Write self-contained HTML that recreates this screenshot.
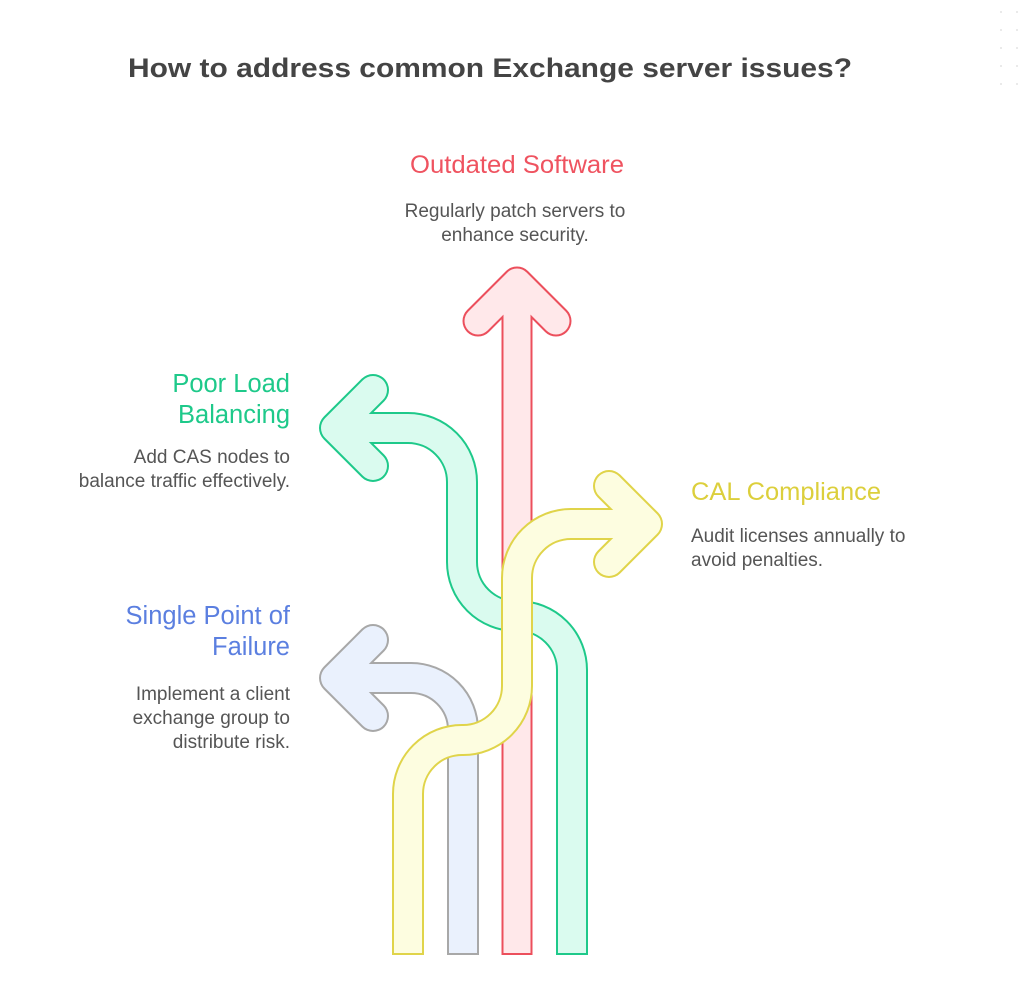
<!DOCTYPE html>
<html><head><meta charset="utf-8"><style>
html,body{margin:0;padding:0;background:#fff;}
svg{display:block;}
text{font-family:"Liberation Sans",Arial,sans-serif;}
</style></head><body>
<svg width="1024" height="989" viewBox="0 0 1024 989" xmlns="http://www.w3.org/2000/svg">
<g fill="#e4e4e4">
<circle cx="1001" cy="12" r="1"/><circle cx="1017" cy="12" r="1"/>
<circle cx="1001" cy="30" r="1"/><circle cx="1017" cy="30" r="1"/>
<circle cx="1001" cy="48" r="1"/><circle cx="1017" cy="48" r="1"/>
<circle cx="1001" cy="66" r="1"/><circle cx="1017" cy="66" r="1"/>
<circle cx="1001" cy="84" r="1"/><circle cx="1017" cy="84" r="1"/>
</g>
<text x="490" y="77" text-anchor="middle" font-size="27" font-weight="bold" fill="#444" textLength="724" lengthAdjust="spacingAndGlyphs">How to address common Exchange server issues?</text>

<g fill="none" stroke-linejoin="round">
<g stroke="#a8a8a8" stroke-width="32">
<path d="M463 955 V730 A52 52 0 0 0 411 678 H340"/>
<path d="M373 640 L335 678 L373 716" stroke-linecap="round"/>
</g>
<g stroke="#eaf1fd" stroke-width="28">
<path d="M463 953 V730 A52 52 0 0 0 411 678 H340"/>
<path d="M373 640 L335 678 L373 716" stroke-linecap="round"/>
</g>
<g stroke="#1ec98a" stroke-width="32">
<path d="M572 955 V670 A54 54 0 0 0 518 616 H516 A54 54 0 0 1 462 562 V482 A54 54 0 0 0 408 428 H340"/>
<path d="M373 390 L335 428 L373 466" stroke-linecap="round"/>
</g>
<g stroke="#dafbef" stroke-width="28">
<path d="M572 953 V670 A54 54 0 0 0 518 616 H516 A54 54 0 0 1 462 562 V482 A54 54 0 0 0 408 428 H340"/>
<path d="M373 390 L335 428 L373 466" stroke-linecap="round"/>
</g>
<g stroke="#ec4f5c" stroke-width="31">
<path d="M517 955 V292"/>
<path d="M478 321 L517 282 L556 321" stroke-linecap="round"/>
</g>
<g stroke="#ffe8ea" stroke-width="27">
<path d="M517 953 V292"/>
<path d="M478 321 L517 282 L556 321" stroke-linecap="round"/>
</g>
<g stroke="#e0d44a" stroke-width="32">
<path d="M408 955 V794 A54 54 0 0 1 462 740 H463 A54 54 0 0 0 517 686 V578 A54 54 0 0 1 571 524 H640"/>
<path d="M609 486 L647 524 L609 562" stroke-linecap="round"/>
</g>
<g stroke="#fdfde0" stroke-width="28">
<path d="M408 953 V794 A54 54 0 0 1 462 740 H463 A54 54 0 0 0 517 686 V578 A54 54 0 0 1 571 524 H640"/>
<path d="M609 486 L647 524 L609 562" stroke-linecap="round"/>
</g>
</g>

<text x="517" y="173" text-anchor="middle" font-size="25" fill="#ef5360" textLength="214" lengthAdjust="spacingAndGlyphs">Outdated Software</text>
<g font-size="19" fill="#555">
<text x="515" y="217" text-anchor="middle">Regularly patch servers to</text>
<text x="515" y="241" text-anchor="middle">enhance security.</text>
</g>

<text x="691" y="500" font-size="25" fill="#dccf3c" textLength="190" lengthAdjust="spacingAndGlyphs">CAL Compliance</text>
<g font-size="19" fill="#555">
<text x="691" y="542">Audit licenses annually to</text>
<text x="691" y="566">avoid penalties.</text>
</g>

<g font-size="25.5" fill="#1ec98a" text-anchor="end">
<text x="290" y="392">Poor Load</text>
<text x="290" y="423">Balancing</text>
</g>
<g font-size="19" fill="#555" text-anchor="end">
<text x="290" y="463">Add CAS nodes to</text>
<text x="290" y="487">balance traffic effectively.</text>
</g>

<g font-size="25.5" fill="#5b7fe0" text-anchor="end">
<text x="290" y="624">Single Point of</text>
<text x="290" y="655">Failure</text>
</g>
<g font-size="19" fill="#555" text-anchor="end">
<text x="290" y="700">Implement a client</text>
<text x="290" y="724">exchange group to</text>
<text x="290" y="748">distribute risk.</text>
</g>
</svg>
</body></html>
